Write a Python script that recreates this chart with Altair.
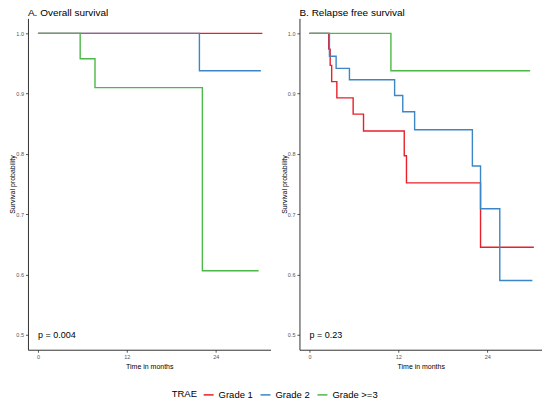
import pandas as pd
import altair as alt

FONT = "Liberation Sans"

groups = ["Grade 1", "Grade 2", "Grade >=3"]
colors = ["#E8202A", "#3C86C6", "#4DB848"]

# A. overall survival (step points: time in months, survival)
os_g1_t = [0, 30.3]
os_g1_s = [1.0, 1.0]
os_g2_t = [0, 21.8, 30.1]
os_g2_s = [1.0, 0.938, 0.938]
os_g3_t = [0, 5.7, 7.7, 22.2, 29.8]
os_g3_s = [1.0, 0.958, 0.910, 0.606, 0.606]

# B. relapse free survival
rfs_g1_t = [0, 2.6, 2.8, 3.0, 3.7, 5.9, 7.3, 12.8, 13.1, 23.1, 30.3]
rfs_g1_s = [1.0, 0.974, 0.947, 0.920, 0.893, 0.866, 0.838, 0.797, 0.752, 0.645, 0.645]
rfs_g2_t = [0, 2.7, 3.6, 5.4, 11.5, 12.6, 14.2, 22.0, 23.1, 25.7, 30.1]
rfs_g2_s = [1.0, 0.962, 0.942, 0.923, 0.897, 0.870, 0.840, 0.780, 0.709, 0.590, 0.590]
rfs_g3_t = [0, 11.0, 29.8]
rfs_g3_s = [1.0, 0.938, 0.938]

x_ticks = [0, 12, 24]
y_ticks = [0.5, 0.6, 0.7, 0.8, 0.9, 1.0]


def make_df(series):
    rows = []
    for grp, ts, ss in series:
        for t, s in zip(ts, ss):
            rows.append({"time": t, "surv": s, "TRAE": grp})
    return pd.DataFrame(rows)


def panel(df, title, ptext):
    base = alt.Chart(df)
    lines = base.mark_line(interpolate="step-after", strokeWidth=1.4).encode(
        x=alt.X("time:Q", title="Time in months",
                scale=alt.Scale(domain=[-1.35, 31.4], nice=False, zero=False),
                axis=alt.Axis(values=x_ticks, format="d")),
        y=alt.Y("surv:Q", title="Survival probability",
                scale=alt.Scale(domain=[0.475, 1.025], nice=False, zero=False),
                axis=alt.Axis(values=y_ticks, format=".1f", titlePadding=0, labelPadding=2)),
        color=alt.Color("TRAE:N", scale=alt.Scale(domain=groups, range=colors),
                        legend=alt.Legend(orient="none", legendX=144, legendY=371,
                                          direction="horizontal", titleOrient="left",
                                          symbolType="stroke", symbolSize=100,
                                          symbolStrokeWidth=1.5, labelFontSize=9.5,
                                          titleFontSize=9.5, titleFontWeight="normal",
                                          titleFont=FONT, labelFont=FONT,
                                          titlePadding=5, columnPadding=4,
                                          labelOffset=4, labelColor="black")),
        order=alt.Order("time:Q"),
    )
    ptxt = alt.Chart(pd.DataFrame({"time": [0], "surv": [0.5], "t": [ptext]})).mark_text(
        align="left", baseline="middle", fontSize=9, font=FONT, color="black"
    ).encode(x="time:Q", y="surv:Q", text="t:N")
    return (lines + ptxt).properties(
        width=243, height=332,
        title=alt.TitleParams(title, anchor="start", frame="group", fontSize=10,
                              font=FONT, fontWeight="normal", offset=0, color="black"),
    )


os_df = make_df([(groups[0], os_g1_t, os_g1_s), (groups[1], os_g2_t, os_g2_s),
                 (groups[2], os_g3_t, os_g3_s)])
rfs_df = make_df([(groups[0], rfs_g1_t, rfs_g1_s), (groups[1], rfs_g2_t, rfs_g2_s),
                  (groups[2], rfs_g3_t, rfs_g3_s)])

chart = alt.hconcat(
    panel(os_df, "A. Overall survival", "p = 0.004"),
    panel(rfs_df, "B. Relapse free survival", "p = 0.23"),
    spacing=9,
).properties(padding={"left": 0, "top": 0, "right": 0, "bottom": 0}).configure_view(
    stroke=None
).configure_axis(
    grid=False, domainColor="#333333", domainWidth=1, tickColor="#555555", tickSize=2.5,
    labelFont=FONT, titleFont=FONT, labelFontSize=5.5, titleFontSize=7,
    labelColor="#555555", titleColor="black", titleFontWeight="normal",
    labelPadding=2, titlePadding=3,
)

chart.save("out.html", embed_options={"renderer": "svg", "actions": False})
